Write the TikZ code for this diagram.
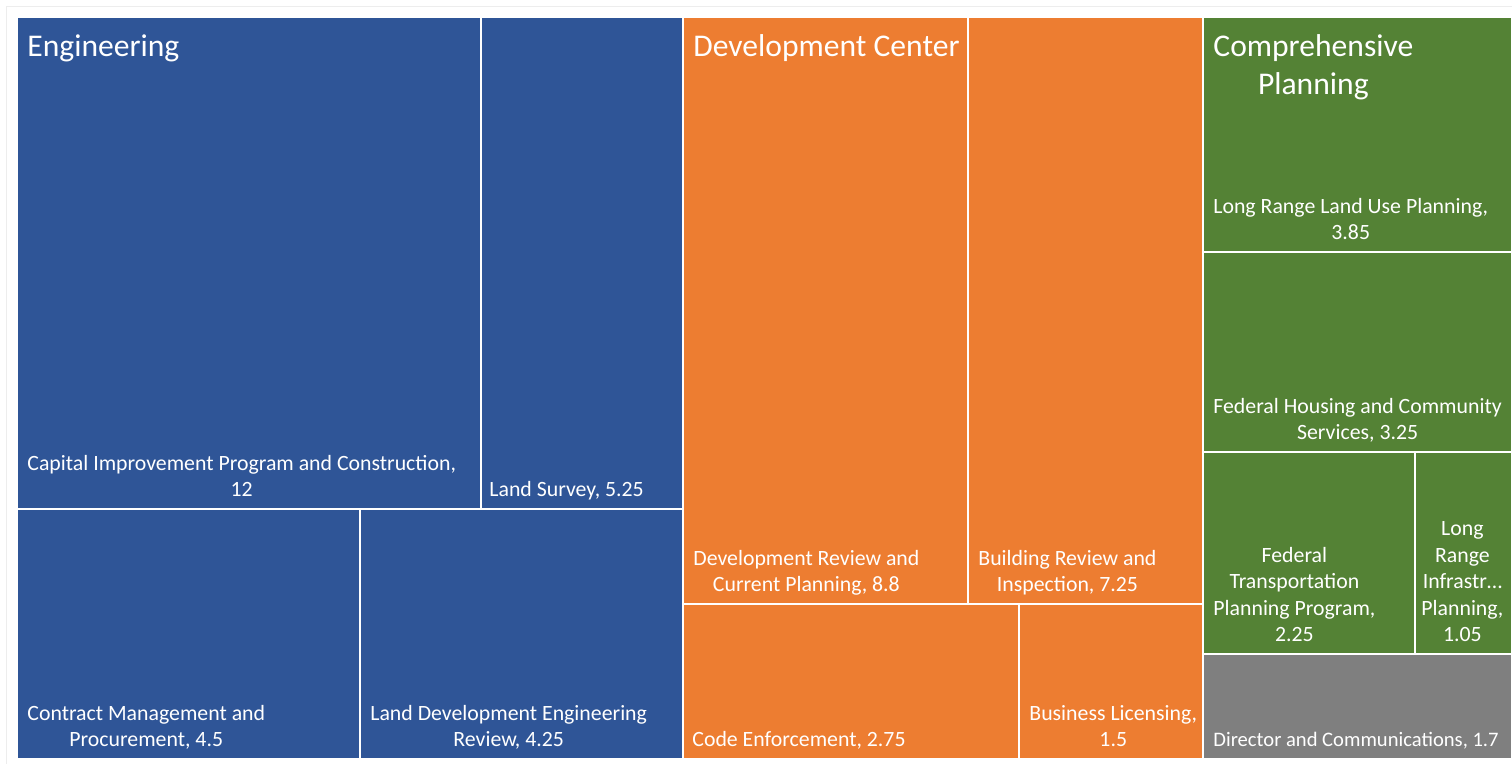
\documentclass[tikz,border=0pt]{standalone}
\usepackage{fontspec}
\setmainfont{Carlito}
\definecolor{engblue}{HTML}{2F5597}
\definecolor{devorange}{HTML}{ED7D31}
\definecolor{plangreen}{HTML}{548235}
\definecolor{dirgray}{HTML}{7F7F7F}
\tikzset{
  leaf/.style={white,font=\fontsize{10.9}{13.2}\selectfont,align=center,
    anchor=south west,inner xsep=4.5pt,inner ysep=1.6pt,execute at end node=\strut},
  head/.style={white,font=\fontsize{15.8}{19}\selectfont,align=center,
    anchor=north west,inner xsep=4.5pt,inner ysep=5.6pt,execute at begin node=\strut}
}

\begin{document}
\begin{tikzpicture}[x=0.5pt,y=-0.5pt]
  \useasboundingbox[fill=white] (0,0) rectangle (1512,764);
  \draw[black!7] (6,780) -- (6,6) -- (1530,6);

  \begin{scope}[fill=engblue]
  \fill (18,18) rectangle (480,508);
  \fill (482,18) rectangle (682,508);
  \fill (18,510) rectangle (359,758);
  \fill (361,510) rectangle (682,758);
  \end{scope}
  \begin{scope}[fill=devorange]
  \fill (684,18) rectangle (967,603);
  \fill (969,18) rectangle (1202,603);
  \fill (684,605) rectangle (1018,758);
  \fill (1020,605) rectangle (1202,758);
  \end{scope}
  \begin{scope}[fill=plangreen]
  \fill (1204,18) rectangle (1511,251);
  \fill (1204,253) rectangle (1511,451);
  \fill (1204,453) rectangle (1414,653);
  \fill (1416,453) rectangle (1511,653);
  \end{scope}
  \fill[dirgray] (1204,655) rectangle (1511,758);

  \node[head] (engineering) at (18,18) {Engineering};
  \node[head] (devcenter) at (684,18) {Development Center};
  \node[head,yshift=-2.5pt] (compplan) at (1204,18) {Comprehensive\\Planning};

  \node[leaf] (cip) at (18,508) {Capital Improvement Program and Construction,\\12};
  \node[leaf,inner xsep=3.5pt] (survey) at (482,508) {Land Survey, 5.25};
  \node[leaf] (contract) at (18,758) {Contract Management and\\Procurement, 4.5};
  \node[leaf] (landdev) at (361,758) {Land Development Engineering\\Review, 4.25};
  \node[leaf] (devreview) at (684,603) {Development Review and\\Current Planning, 8.8};
  \node[leaf] (building) at (969,603) {Building Review and\\Inspection, 7.25};
  \node[leaf,inner xsep=4pt] (codeenf) at (684,758) {Code Enforcement, 2.75};
  \node[leaf] (business) at (1020,758) {Business Licensing,\\1.5};
  \node[leaf] (landuse) at (1204,251) {Long Range Land Use Planning,\\3.85};
  \node[leaf] (housing) at (1204,451) {Federal Housing and Community\\Services, 3.25};
  \node[leaf] (transport) at (1204,653) {Federal\\Transportation\\Planning Program,\\2.25};
  \node[leaf,inner xsep=2.5pt] (infra) at (1416,653) {Long\\Range\\Infrastr…\\Planning,\\1.05};
  \node[leaf,font=\fontsize{10.3}{13.2}\selectfont] (director) at (1204,758) {Director and Communications, 1.7};
\end{tikzpicture}
\end{document}
